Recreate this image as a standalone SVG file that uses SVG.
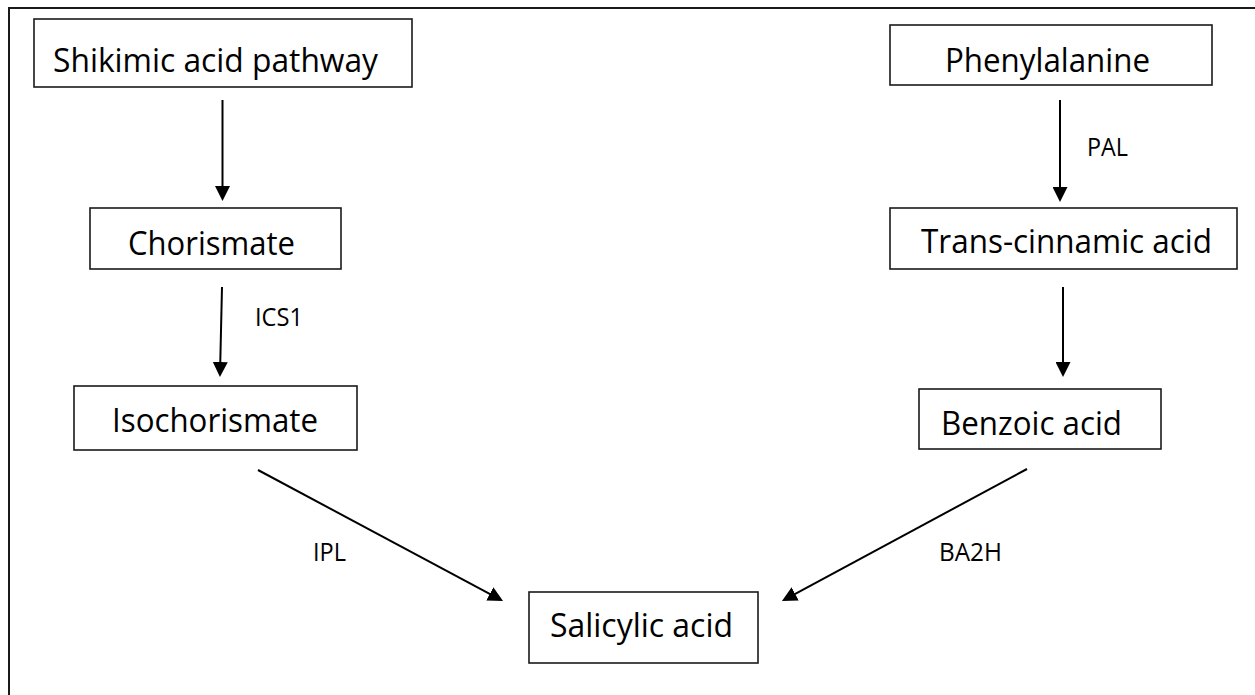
<svg xmlns="http://www.w3.org/2000/svg" width="1255" height="695" viewBox="0 0 1255 695">
<style>
.box{fill:#fff;stroke:#1a1a1a;stroke-width:1.6}
.t{font-family:"Open Sans","Liberation Sans",sans-serif;font-size:32px;fill:#000}
.lb{font-family:"Open Sans","Liberation Sans",sans-serif;font-size:25px;fill:#000}
.c{stroke:#000;stroke-width:2;fill:none;marker-end:url(#ah)}
</style>
<defs>
<marker id="ah" markerUnits="userSpaceOnUse" markerWidth="15" markerHeight="15" refX="12" refY="7.5" orient="auto">
<path d="M0,0 L15,7.5 L0,15 z" fill="#000"/>
</marker>
</defs>
<rect width="1255" height="695" fill="#fff"/>
<rect x="9" y="8" width="1270" height="720" fill="none" stroke="#1a1a1a" stroke-width="2"/>
<g id="connectors">
<line class="c" x1="222.5" y1="100" x2="222.5" y2="198"/>
<line class="c" x1="222" y1="287" x2="220" y2="374"/>
<line class="c" x1="258" y1="470" x2="500.4" y2="599.6"/>
<line class="c" x1="1060" y1="100" x2="1060" y2="199"/>
<line class="c" x1="1063" y1="287" x2="1063" y2="374"/>
<line class="c" x1="1027" y1="469" x2="784.6" y2="599.6"/>
<text class="lb" x="255" y="326" textLength="48" lengthAdjust="spacingAndGlyphs">ICS1</text>
<text class="lb" x="1087" y="156" textLength="41" lengthAdjust="spacingAndGlyphs">PAL</text>
<text class="lb" x="313" y="561" textLength="33" lengthAdjust="spacingAndGlyphs">IPL</text>
<text class="lb" x="939" y="561" textLength="63" lengthAdjust="spacingAndGlyphs">BA2H</text>
</g>
<g id="shikimic">
<rect class="box" x="34" y="19" width="378" height="68"/>
<text class="t" x="53" y="72" textLength="325" lengthAdjust="spacingAndGlyphs">Shikimic acid pathway</text>
</g>
<g id="phenylalanine">
<rect class="box" x="890" y="25" width="322" height="60"/>
<text class="t" x="945" y="72" textLength="205" lengthAdjust="spacingAndGlyphs">Phenylalanine</text>
</g>
<g id="chorismate">
<rect class="box" x="90" y="208" width="251" height="61"/>
<text class="t" x="128" y="255" textLength="167" lengthAdjust="spacingAndGlyphs">Chorismate</text>
</g>
<g id="transcinnamic">
<rect class="box" x="890" y="208" width="347" height="61"/>
<text class="t" x="921" y="253" textLength="291" lengthAdjust="spacingAndGlyphs">Trans-cinnamic acid</text>
</g>
<g id="isochorismate">
<rect class="box" x="74" y="386" width="283" height="64"/>
<text class="t" x="112" y="432" textLength="206" lengthAdjust="spacingAndGlyphs">Isochorismate</text>
</g>
<g id="benzoic">
<rect class="box" x="919" y="389" width="242" height="60"/>
<text class="t" x="941" y="435" textLength="181" lengthAdjust="spacingAndGlyphs">Benzoic acid</text>
</g>
<g id="salicylic">
<rect class="box" x="529" y="592" width="229" height="71"/>
<text class="t" x="550" y="637" textLength="183" lengthAdjust="spacingAndGlyphs">Salicylic acid</text>
</g>
</svg>
